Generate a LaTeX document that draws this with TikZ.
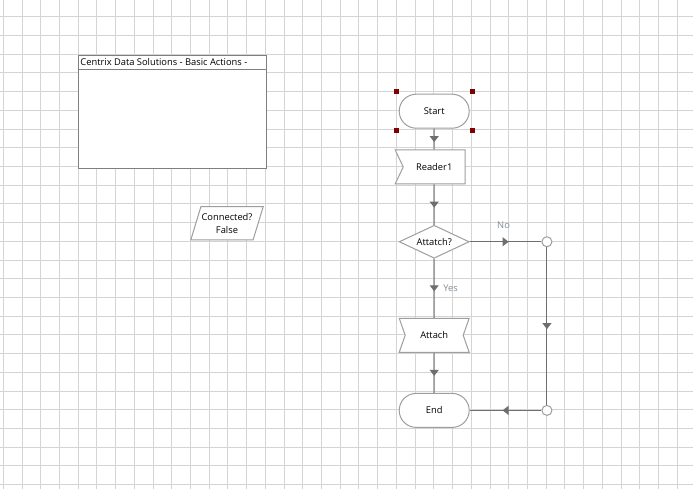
\documentclass[tikz,border=0pt]{standalone}
\usepackage{fontspec}
\setmainfont{Open Sans}
\usetikzlibrary{positioning,arrows.meta,shapes.geometric,shapes.symbols,calc,decorations.markings}
\definecolor{cgrid}{HTML}{D4D4D4}
\definecolor{cline}{HTML}{6E6E6E}
\definecolor{cshape}{HTML}{9E9E9E}
\definecolor{cpanel}{HTML}{7F7F7F}
\definecolor{chandle}{HTML}{800000}
\definecolor{clabel}{HTML}{7F8C99}
\newcommand\chartfont{\fontsize{7}{10}\selectfont}
\tikzset{
  gridln/.style={draw=cgrid, line width=0.75pt},
  shp/.style={draw=cshape, fill=white, line width=0.75pt, inner sep=0pt, font=\chartfont, minimum width=52.5pt, minimum height=25.5pt},
  term/.style={shp, rounded corners=12.75pt},
  reader/.style={shp, signal, signal from=west, signal to=nowhere, signal pointer angle=129.6},
  action/.style={shp, signal, signal from=west and east, signal to=nowhere, signal pointer angle=141},
  ask/.style={shp, diamond, aspect=2.1, minimum height=24.75pt},
  junction/.style={circle, draw=cshape, fill=white, line width=0.75pt, minimum size=7.5pt, inner sep=0pt},
  conn/.style={shp, trapezium, trapezium left angle=64.3, trapezium right angle=115.7, trapezium stretches=true, minimum width=54.5pt, minimum height=25pt, align=center},
  panel/.style={draw=cpanel, fill=white, line width=0.75pt, minimum width=141.5pt, minimum height=84.5pt},
  paneltitle/.style={font=\chartfont, inner xsep=2pt, inner ysep=0pt, minimum height=10.2pt},
  lbl/.style={font=\chartfont, text=clabel, inner sep=1pt},
  flow/.style={draw=cline, line width=0.8pt, postaction={decorate}, decoration={markings, mark=at position 0.5 with {\arrow[xshift=2.25pt, cline]{Triangle[width=6.75pt, length=4.5pt]}}}},
}
\begin{document}
\begin{tikzpicture}[x=0.75pt, y=-0.75pt]
  % sheet
  \fill[white] (0,0) rectangle (693,489);
  \useasboundingbox (0,0) rectangle (693,489);
  \foreach \i in {0,...,36}
    \draw[gridln] ({3.3+18.72*\i},0) -- ({3.3+18.72*\i},489);
  \foreach \j in {0,...,25}
    \draw[gridln] (0,{16.7+18.72*\j}) -- (693,{16.7+18.72*\j});

  % panel
  \node[panel] (panel) at (172.35,112) {};
  \node[paneltitle, anchor=north west] (title) at (panel.north west) {Centrix Data Solutions - Basic Actions -};
  \draw[cpanel, line width=0.75pt] (title.south -| panel.west) -- (title.south -| panel.east);

  \node[conn] (conn) at (227,223.3) {Connected?\\False};

  % flow
  \node[term] (start) at (434.2,111.2) {Start};
  \node[reader, below=15.55pt of start] (reader) {Reader1};
  \node[ask, below=30.25pt of reader] (ask) {Attatch?};
  \node[action, below=44.25pt of ask] (attach) {Attach};
  \node[term, below=30.1pt of attach] (end) {End};
  \node[junction, right=53.8pt of ask] (j1) {};
  \node[junction] (j2) at (j1 |- end) {};

  \draw[flow] (start) -- (reader);
  \draw[flow] (reader) -- (ask);
  \draw[flow] (ask) -- node[lbl, above=8.3pt, xshift=-1.5pt] (no) {No} (j1);
  \draw[flow] (j1) -- (j2);
  \draw[flow] (j2) -- (end);
  \draw[flow] (ask) -- node[lbl, right=5.5pt] (yes) {Yes} (attach);
  \draw[flow] (attach) -- (end);

  % selection handles
  \foreach \c/\dx/\dy in {north west/-2/-2, north east/2.5/-2, south west/-2/2, south east/2.5/2}
    \fill[chandle] ($(start.\c)+(\dx,\dy)$) ++(-2.5,-2.5) rectangle ++(5,5);
\end{tikzpicture}
\end{document}
